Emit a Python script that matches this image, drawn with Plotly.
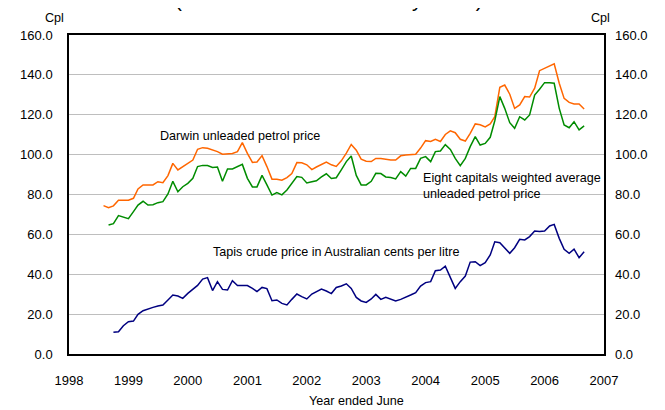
import pandas as pd
import plotly.graph_objects as go

# monthly series, first Darwin point is Aug 1998
months = pd.date_range('1998-08-01', periods=98, freq='MS')

darwin = [74.4, 73.4, 74.3, 77.1, 77.1, 77.1, 78.1, 82.8, 84.8, 84.9,
          84.8, 86.4, 85.9, 89.5, 95.6, 92.3, 94.0, 95.6, 97.3, 102.7,
          103.5, 103.2, 102.3, 101.5, 100.2, 100.3, 100.6, 101.5, 106.0, 100.6,
          96.1, 96.3, 99.5, 94.0, 87.7, 87.7, 87.2, 88.5, 90.5, 96.0,
          95.9, 94.9, 92.5, 93.8, 95.1, 96.3, 94.9, 94.1, 96.9, 100.7,
          105.1, 102.2, 97.7, 96.7, 96.5, 98.1, 98.1, 97.7, 97.3, 97.3,
          99.4, 99.8, 100.1, 100.2, 103.3, 107.0, 106.6, 107.7, 106.6, 110.1,
          111.9, 111.0, 107.7, 106.8, 110.7, 115.4, 115.0, 113.9, 115.4, 119.0,
          133.8, 134.9, 130.3, 123.2, 124.9, 129.1, 128.9, 133.3, 142.1, 143.3,
          144.5, 145.5, 135.8, 128.2, 126.2, 125.4, 125.4, 122.9]

# starts one month after Darwin
eight_capitals = [64.7, 65.4, 69.4, 68.7, 67.9, 71.4, 74.7, 76.6, 74.7, 74.9,
                  75.9, 76.4, 80.3, 86.6, 81.4, 83.9, 85.6, 88.1, 94.0, 94.6,
                  94.5, 93.6, 93.8, 86.6, 92.8, 92.8, 94.0, 95.1, 88.1, 83.8,
                  83.8, 89.6, 84.8, 79.7, 81.0, 79.8, 82.3, 85.5, 89.0, 88.6,
                  85.8, 86.4, 86.9, 88.8, 90.4, 88.0, 88.4, 92.4, 96.5, 99.3,
                  89.6, 84.8, 84.8, 86.6, 90.6, 90.5, 88.8, 88.5, 87.8, 91.5,
                  89.2, 93.1, 93.1, 98.1, 99.0, 96.5, 101.5, 101.8, 105.0, 102.6,
                  98.1, 94.5, 98.1, 104.0, 109.0, 104.8, 105.6, 108.7, 117.0, 129.1,
                  123.2, 116.0, 113.2, 119.0, 117.4, 119.9, 129.9, 132.8, 136.1, 136.1,
                  135.8, 123.2, 114.9, 113.5, 116.5, 112.4, 114.4]

# starts two months after Darwin
tapis = [10.9, 11.2, 14.2, 16.2, 16.5, 19.9, 21.7, 22.7, 23.4, 24.1,
         24.6, 27.1, 29.6, 29.1, 27.9, 30.4, 32.6, 34.4, 37.6, 38.3,
         31.8, 36.3, 32.4, 32.1, 36.8, 34.3, 34.4, 34.3, 32.9, 31.3,
         33.4, 32.8, 26.7, 27.1, 25.4, 24.6, 27.4, 30.1, 28.8, 27.6,
         30.1, 31.3, 32.6, 31.6, 30.3, 33.4, 34.1, 35.2, 32.9, 28.4,
         26.6, 25.9, 27.6, 29.9, 27.4, 28.4, 27.4, 26.6, 27.4, 28.4,
         29.6, 30.8, 34.1, 35.8, 36.3, 41.8, 42.1, 44.1, 38.8, 32.9,
         36.3, 39.1, 46.1, 46.3, 44.3, 45.8, 49.7, 56.3, 55.8, 53.3,
         50.5, 53.3, 57.5, 57.2, 58.9, 61.7, 61.4, 61.7, 64.2, 65.0,
         58.0, 52.5, 50.5, 52.6, 48.3, 51.3]

years = list(range(1998, 2008))
year_ticks = [f'{y}-01-01' for y in years]

FONT = 'Liberation Sans, Arial, sans-serif'

fig = go.Figure()
fig.add_trace(go.Scatter(x=months, y=darwin, mode='lines',
                         line=dict(color='#FF6600', width=1.5), name='Darwin'))
fig.add_trace(go.Scatter(x=months[1:], y=eight_capitals, mode='lines',
                         line=dict(color='#008C00', width=1.5), name='Eight capitals'))
fig.add_trace(go.Scatter(x=months[2:], y=tapis, mode='lines',
                         line=dict(color='#000080', width=1.5), name='Tapis'))
# keeps the right hand axis alive
fig.add_trace(go.Scatter(x=[months[0]], y=[None], yaxis='y2', showlegend=False,
                         hoverinfo='skip'))

axis_line = dict(showline=True, linecolor='#000000', linewidth=1.5, mirror=True)

# page body adds 8px on the left/top, so the figure is 8px smaller
fig.update_layout(
    width=657, height=402,
    margin=dict(l=54, r=61, t=27, b=56),
    paper_bgcolor='white', plot_bgcolor='white',
    showlegend=False,
    font=dict(family=FONT, size=13, color='#000000'),
    xaxis=dict(type='date', range=['1998-01-01', '2007-01-01'],
               tickvals=year_ticks, ticktext=[str(y) for y in years],
               showgrid=False, ticks='', zeroline=False,
               ticklabelstandoff=14, **axis_line),
    yaxis=dict(range=[0, 160], dtick=20, tickformat='.1f',
               showgrid=True, gridcolor='#BEBEBE', gridwidth=1,
               ticks='', zeroline=False, ticklabelstandoff=12, **axis_line),
    yaxis2=dict(range=[0, 160], dtick=20, tickformat='.1f', overlaying='y',
                side='right', showgrid=False, ticks='', zeroline=False,
                ticklabelstandoff=10),
)

label_font = dict(family=FONT, size=12.6, color='#000000')
fig.add_annotation(x='1999-06-30', y=109.5, xref='x', yref='y',
                   xanchor='left', yanchor='middle',
                   text='Darwin unleaded petrol price', showarrow=False, font=label_font)
fig.add_annotation(x='2003-12-01', y=84.4, xref='x', yref='y',
                   xanchor='left', yanchor='middle', align='left',
                   text='Eight capitals weighted average<br>unleaded petrol price',
                   showarrow=False, font=label_font)
fig.add_annotation(x='2000-05-22', y=51.3, xref='x', yref='y',
                   xanchor='left', yanchor='middle',
                   text='Tapis crude price in Australian cents per litre',
                   showarrow=False, font=label_font)

fig.add_annotation(x=-0.028, y=1.053, xref='paper', yref='paper', text='Cpl',
                   xanchor='center', yanchor='middle', showarrow=False, font=label_font)
fig.add_annotation(x=0.994, y=1.053, xref='paper', yref='paper', text='Cpl',
                   xanchor='center', yanchor='middle', showarrow=False, font=label_font)
fig.add_annotation(x=0.537, y=-0.147, xref='paper', yref='paper', text='Year ended June',
                   xanchor='center', yanchor='middle', showarrow=False, font=label_font)

# title sits mostly above the visible area
fig.add_annotation(x=0.486, y=1.07, xref='paper', yref='paper',
                   xanchor='center', yanchor='bottom',
                   text='(Australian cents – monthly basis)', showarrow=False,
                   font=dict(family=FONT, size=20.5, color='#000000'))

fig.write_html('out.html')
